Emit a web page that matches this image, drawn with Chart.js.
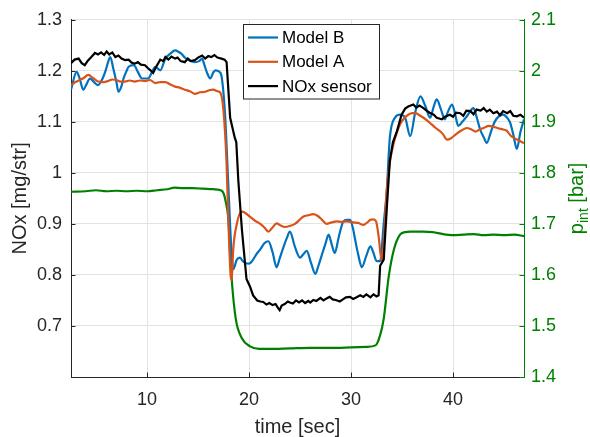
<!DOCTYPE html>
<html lang="pt-BR">
<head>
<meta charset="UTF-8">
<title>NOx - modelos x sensor</title>
<script src="https://cdn.jsdelivr.net/npm/chart.js@4.4.1/dist/chart.umd.min.js"></script>
<style>
    html, body { margin: 0; padding: 0; background: #fff; }
    #grafico { display: block; }
</style>
</head>
<body>
<canvas id="grafico" width="590" height="437"></canvas>
<script>
// Eixos e ticks
const ticksTempo = [10, 20, 30, 40];
const ticksNOx = [0.7, 0.8, 0.9, 1, 1.1, 1.2, 1.3];
const ticksPint = [1.4, 1.5, 1.6, 1.7, 1.8, 1.9, 2, 2.1];

// Model B (azul)
const tempoB = [2.55, 3.1, 3.4, 3.75, 4.1, 4.4, 4.8, 5.2, 5.6, 5.9, 6.2, 6.4, 6.7, 7.0, 7.2, 7.5, 7.7, 8.0, 8.2, 8.7,
    9.1, 9.5, 10.1, 10.5, 10.8, 11.3, 11.8, 12.3, 12.75, 13.1, 13.4, 13.7, 14.05, 14.7, 15.1, 15.4, 15.6, 15.85, 16.2, 16.5,
    16.7, 17.1, 17.3, 17.65, 17.95, 18.3, 18.45, 18.8, 19.1, 19.35, 19.6, 20.0, 20.3, 20.7, 21.1, 21.5, 21.9, 22.3, 22.7, 23.0,
    23.4, 23.7, 24.0, 24.5, 25.0, 25.3, 25.65, 26.1, 26.5, 26.8, 27.1, 27.5, 27.8, 28.1, 28.4, 28.8, 29.25, 29.6, 29.9, 30.2,
    30.4, 30.7, 31.05, 31.5, 31.9, 32.2, 32.5, 32.85, 33.2, 33.5, 33.8, 34.3, 34.8, 35.3, 35.8, 36.3, 36.8, 37.3, 37.75, 38.1,
    38.4, 38.8, 39.2, 39.5, 39.9, 40.2, 40.5, 40.9, 41.35, 42.0, 42.3, 42.65, 43.0, 43.3, 43.7, 44.1, 44.9, 45.3, 45.6, 45.9,
    46.25, 46.6, 46.95];
const noxB = [1.163, 1.198, 1.185, 1.163, 1.175, 1.185, 1.178, 1.172, 1.183, 1.198, 1.218, 1.227, 1.204, 1.178, 1.159, 1.170, 1.185, 1.200, 1.208, 1.211,
    1.198, 1.185, 1.185, 1.198, 1.208, 1.201, 1.224, 1.234, 1.240, 1.237, 1.233, 1.226, 1.221, 1.217, 1.219, 1.224, 1.213, 1.198, 1.185, 1.197,
    1.201, 1.198, 1.190, 1.114, 0.985, 0.837, 0.811, 0.830, 0.834, 0.828, 0.824, 0.822, 0.827, 0.840, 0.850, 0.862, 0.866, 0.845, 0.815, 0.832,
    0.856, 0.872, 0.885, 0.855, 0.834, 0.840, 0.847, 0.822, 0.802, 0.818, 0.837, 0.862, 0.879, 0.860, 0.843, 0.875, 0.905, 0.908, 0.908, 0.890,
    0.869, 0.840, 0.815, 0.838, 0.856, 0.843, 0.827, 0.827, 0.900, 0.966, 1.069, 1.108, 1.114, 1.108, 1.072, 1.120, 1.150, 1.130, 1.108, 1.130,
    1.144, 1.125, 1.105, 1.120, 1.134, 1.115, 1.092, 1.100, 1.111, 1.127, 1.110, 1.085, 1.070, 1.059, 1.080, 1.101, 1.114, 1.108, 1.098, 1.075,
    1.047, 1.080, 1.105];

// Model A (laranja)
const tempoA = [2.55, 3.0, 3.4, 3.8, 4.25, 4.7, 5.2, 5.7, 6.2, 6.6, 7.0, 7.4, 7.85, 8.3, 8.8, 9.3, 9.8, 10.3, 10.8, 11.3,
    11.8, 12.3, 12.75, 13.2, 13.7, 14.2, 14.7, 15.2, 15.7, 16.1, 16.5, 16.9, 17.2, 17.5, 17.8, 17.95, 18.2, 18.3, 18.45, 18.8,
    19.3, 19.6, 20.1, 20.6, 21.1, 21.5, 21.9, 22.3, 22.7, 23.1, 23.5, 24.0, 24.5, 24.9, 25.3, 25.8, 26.3, 26.7, 27.0, 27.3,
    27.6, 28.1, 28.6, 29.1, 29.6, 30.2, 30.7, 31.2, 31.6, 31.9, 32.2, 32.45, 32.7, 33.0, 33.2, 33.5, 33.8, 34.15, 34.5, 34.8,
    35.2, 35.6, 36.0, 36.3, 36.7, 37.1, 37.5, 37.9, 38.3, 38.7, 39.0, 39.4, 39.8, 40.3, 40.8, 41.35, 41.8, 42.2, 42.6, 43.0,
    43.5, 44.0, 44.5, 44.9, 45.3, 45.6, 45.9, 46.4, 46.95];
const noxA = [1.172, 1.178, 1.182, 1.186, 1.192, 1.186, 1.179, 1.178, 1.180, 1.183, 1.182, 1.179, 1.179, 1.181, 1.179, 1.181, 1.180, 1.182, 1.176, 1.178,
    1.178, 1.173, 1.169, 1.167, 1.163, 1.160, 1.155, 1.158, 1.159, 1.162, 1.163, 1.160, 1.157, 1.121, 1.018, 0.921, 0.798, 0.790, 0.850, 0.900,
    0.924, 0.922, 0.914, 0.906, 0.900, 0.893, 0.885, 0.893, 0.901, 0.897, 0.894, 0.896, 0.900, 0.907, 0.914, 0.917, 0.919, 0.916, 0.911, 0.905,
    0.900, 0.903, 0.905, 0.904, 0.905, 0.903, 0.902, 0.898, 0.903, 0.908, 0.909, 0.905, 0.876, 0.828, 0.860, 0.966, 1.020, 1.056, 1.080, 1.095,
    1.107, 1.114, 1.117, 1.117, 1.113, 1.108, 1.102, 1.095, 1.088, 1.082, 1.076, 1.065, 1.068, 1.076, 1.083, 1.088, 1.085, 1.081, 1.085, 1.088,
    1.092, 1.090, 1.087, 1.085, 1.082, 1.074, 1.069, 1.064, 1.058];

// Sensor de NOx (preto)
const tempoSensor = [2.55, 2.9, 3.3, 3.6, 3.9, 4.2, 4.5, 4.9, 5.2, 5.5, 5.8, 6.05, 6.3, 6.6, 6.9, 7.2, 7.5, 7.85, 8.2, 8.5,
    8.8, 9.1, 9.4, 9.8, 10.1, 10.4, 10.6, 10.9, 11.3, 11.6, 11.8, 12.1, 12.4, 12.75, 13.0, 13.3, 13.7, 14.0, 14.3, 14.7,
    15.0, 15.4, 15.7, 16.0, 16.3, 16.6, 16.9, 17.3, 17.6, 17.8, 18.15, 18.6, 18.75, 18.95, 19.3, 19.75, 20.1, 20.4, 20.8, 21.1,
    21.4, 21.7, 22.0, 22.3, 22.6, 22.85, 23.0, 23.2, 23.5, 23.8, 24.0, 24.3, 24.6, 24.9, 25.2, 25.5, 25.8, 26.0, 26.3, 26.6,
    27.0, 27.3, 27.6, 27.9, 28.2, 28.5, 28.9, 29.2, 29.5, 29.9, 30.2, 30.5, 30.9, 31.2, 31.5, 31.9, 32.2, 32.5, 32.7, 32.85,
    33.2, 33.5, 33.8, 34.1, 34.5, 34.95, 35.3, 35.6, 36.1, 36.4, 36.7, 37.1, 37.4, 37.7, 38.1, 38.4, 38.9, 39.2, 39.7, 40.0,
    40.3, 40.7, 41.0, 41.3, 41.7, 42.0, 42.3, 42.7, 43.0, 43.3, 43.6, 43.95, 44.3, 44.6, 44.9, 45.3, 45.6, 45.9, 46.25, 46.6,
    46.95];
const noxSensor = [1.215, 1.222, 1.224, 1.215, 1.211, 1.220, 1.226, 1.235, 1.232, 1.236, 1.231, 1.238, 1.232, 1.236, 1.227, 1.230, 1.224, 1.221, 1.222, 1.216,
    1.214, 1.217, 1.212, 1.211, 1.205, 1.200, 1.196, 1.208, 1.222, 1.219, 1.227, 1.222, 1.228, 1.224, 1.226, 1.219, 1.217, 1.224, 1.219, 1.221,
    1.226, 1.230, 1.224, 1.229, 1.227, 1.231, 1.226, 1.224, 1.222, 1.217, 1.108, 1.069, 1.060, 0.985, 0.889, 0.792, 0.777, 0.760, 0.750, 0.748,
    0.747, 0.742, 0.745, 0.741, 0.743, 0.735, 0.731, 0.740, 0.743, 0.748, 0.746, 0.744, 0.750, 0.746, 0.750, 0.745, 0.749, 0.746, 0.751, 0.749,
    0.755, 0.750, 0.754, 0.757, 0.752, 0.751, 0.748, 0.752, 0.756, 0.757, 0.753, 0.756, 0.760, 0.757, 0.762, 0.756, 0.762, 0.758, 0.760, 0.818,
    0.830, 0.930, 1.024, 1.060, 1.082, 1.114, 1.126, 1.130, 1.134, 1.128, 1.132, 1.127, 1.122, 1.118, 1.114, 1.108, 1.105, 1.110, 1.114, 1.110,
    1.118, 1.117, 1.112, 1.122, 1.121, 1.115, 1.124, 1.122, 1.127, 1.120, 1.124, 1.117, 1.120, 1.113, 1.121, 1.117, 1.121, 1.112, 1.111, 1.114,
    1.108];

// Pressão de admissão p_int (verde, eixo direito)
const tempoPint = [2.55, 4, 5, 6, 7, 8, 9, 10, 11, 12, 12.7, 13.5, 14.5, 15.5, 16.5, 17.2, 17.5, 17.7, 17.95, 18.3,
    18.7, 19.3, 20.1, 21, 22, 24, 26, 28, 30, 31.5, 32.4, 32.85, 33.2, 33.7, 34.2, 34.8, 35.3, 35.8, 37, 38,
    39, 40, 41, 42, 43, 44, 45, 46, 46.95];
const pint = [1.763, 1.764, 1.766, 1.764, 1.765, 1.764, 1.765, 1.764, 1.766, 1.768, 1.771, 1.770, 1.770, 1.769, 1.768, 1.766, 1.760, 1.745, 1.714, 1.592,
    1.514, 1.476, 1.460, 1.455, 1.455, 1.456, 1.457, 1.457, 1.458, 1.459, 1.462, 1.482, 1.514, 1.598, 1.650, 1.679, 1.684, 1.685, 1.685, 1.684,
    1.680, 1.678, 1.679, 1.680, 1.678, 1.679, 1.678, 1.679, 1.676];

const FONTE = "'Liberation Sans', Arial, Helvetica, sans-serif";
const COR_EIXO = '#262626';
const COR_GRID = '#e3e3e3';
const VERDE = '#008000';

function pontos(xs, ys) {
    return xs.map((x, i) => ({ x: x, y: ys[i] }));
}

// Ticks fixos, no estilo do MATLAB
function fixarTicks(lista) {
    return function(scale) {
        scale.ticks = lista.map(v => ({ value: v }));
    };
}

// Marcas de tick para dentro, títulos dos eixos e legenda
const extrasPlugin = {
    id: 'extras',
    afterDraw(chart) {
        const ctx = chart.ctx;
        const area = chart.chartArea;
        const sx = chart.scales.x, sy = chart.scales.y, sy2 = chart.scales.y2;
        const tam = 4.5;

        ctx.save();
        ctx.lineWidth = 1;
        ctx.strokeStyle = COR_EIXO;
        ctx.beginPath();
        ticksTempo.forEach(v => {
            const px = Math.round(sx.getPixelForValue(v)) + 0.5;
            ctx.moveTo(px, area.bottom);
            ctx.lineTo(px, area.bottom - tam);
        });
        ticksNOx.forEach(v => {
            const py = Math.round(sy.getPixelForValue(v)) + 0.5;
            ctx.moveTo(area.left, py);
            ctx.lineTo(area.left + tam, py);
        });
        ctx.stroke();
        ctx.strokeStyle = VERDE;
        ctx.beginPath();
        ticksPint.forEach(v => {
            const py = Math.round(sy2.getPixelForValue(v)) + 0.5;
            ctx.moveTo(area.right, py);
            ctx.lineTo(area.right - tam, py);
        });
        ctx.stroke();

        // Títulos
        const meioY = (area.top + area.bottom) / 2;
        ctx.fillStyle = COR_EIXO;
        ctx.font = '20px ' + FONTE;
        ctx.textAlign = 'center';
        ctx.textBaseline = 'alphabetic';
        ctx.fillText('time [sec]', (area.left + area.right) / 2, 433);

        ctx.save();
        ctx.translate(26, meioY);
        ctx.rotate(-Math.PI / 2);
        ctx.fillText('NOx [mg/str]', 0, 0);
        ctx.restore();

        // p_int com subscrito
        ctx.save();
        ctx.translate(583, meioY);
        ctx.rotate(-Math.PI / 2);
        ctx.fillStyle = VERDE;
        ctx.textAlign = 'left';
        ctx.font = '20px ' + FONTE;
        const wP = ctx.measureText('p').width;
        const wResto = ctx.measureText(' [bar]').width;
        ctx.font = '14px ' + FONTE;
        const wSub = ctx.measureText('int').width;
        let x0 = -(wP + wSub + wResto) / 2;
        ctx.font = '20px ' + FONTE;
        ctx.fillText('p', x0, 0);
        ctx.font = '14px ' + FONTE;
        ctx.fillText('int', x0 + wP, 5);
        ctx.font = '20px ' + FONTE;
        ctx.fillText(' [bar]', x0 + wP + wSub, 0);
        ctx.restore();

        // Legenda
        const itens = chart.data.datasets.filter(d => d.naLegenda);
        ctx.fillStyle = '#ffffff';
        ctx.fillRect(243.5, 24.5, 136, 74.5);
        ctx.strokeStyle = COR_EIXO;
        ctx.lineWidth = 1;
        ctx.strokeRect(243.5, 24.5, 136, 74.5);
        ctx.font = '17px ' + FONTE;
        ctx.textAlign = 'left';
        ctx.textBaseline = 'middle';
        itens.forEach((d, i) => {
            const y = 37.5 + i * 24.3;
            ctx.strokeStyle = d.borderColor;
            ctx.lineWidth = 2.2;
            ctx.beginPath();
            ctx.moveTo(248, y);
            ctx.lineTo(278, y);
            ctx.stroke();
            ctx.fillStyle = '#000000';
            ctx.fillText(d.label, 282, y + 1);
        });
        ctx.restore();
    }
};

const ctxGrafico = document.getElementById('grafico').getContext('2d');
const grafico = new Chart(ctxGrafico, {
    type: 'line',
    data: {
        datasets: [{
            label: 'Model B',
            naLegenda: true,
            data: pontos(tempoB, noxB),
            borderColor: '#0072BD',
            borderWidth: 2.2,
            cubicInterpolationMode: 'monotone',
            yAxisID: 'y',
            order: 2
        }, {
            label: 'Model A',
            naLegenda: true,
            data: pontos(tempoA, noxA),
            borderColor: '#D95319',
            borderWidth: 2.2,
            cubicInterpolationMode: 'monotone',
            yAxisID: 'y',
            order: 1
        }, {
            label: 'NOx sensor',
            naLegenda: true,
            data: pontos(tempoSensor, noxSensor),
            borderColor: '#000000',
            borderWidth: 2.2,
            tension: 0,
            yAxisID: 'y',
            order: 0
        }, {
            label: 'p_int',
            naLegenda: false,
            data: pontos(tempoPint, pint),
            borderColor: VERDE,
            borderWidth: 2.2,
            cubicInterpolationMode: 'monotone',
            yAxisID: 'y2',
            order: 3
        }]
    },
    options: {
        responsive: false,
        devicePixelRatio: 1,
        animation: false,
        parsing: false,
        elements: { point: { radius: 0 } },
        layout: { padding: { top: 18, left: 0, right: 0, bottom: 0 } },
        plugins: {
            legend: { display: false },
            tooltip: { enabled: false }
        },
        scales: {
            x: {
                type: 'linear',
                min: 2.55,
                max: 46.95,
                afterBuildTicks: fixarTicks(ticksTempo),
                afterFit: scale => { scale.height = 60; },
                grid: { color: COR_GRID, drawTicks: false },
                border: { color: COR_EIXO, width: 1 },
                ticks: {
                    color: COR_EIXO,
                    padding: 12,
                    font: { family: FONTE, size: 18 },
                    callback: v => String(v)
                }
            },
            y: {
                position: 'left',
                min: 0.6,
                max: 1.3,
                afterBuildTicks: fixarTicks(ticksNOx),
                afterFit: scale => { scale.width = 71; },
                grid: { color: COR_GRID, drawTicks: false },
                border: { color: COR_EIXO, width: 1 },
                ticks: {
                    color: COR_EIXO,
                    padding: 9,
                    font: { family: FONTE, size: 18 },
                    callback: v => String(v)
                }
            },
            y2: {
                position: 'right',
                min: 1.4,
                max: 2.1,
                afterBuildTicks: fixarTicks(ticksPint),
                afterFit: scale => { scale.width = 66; },
                grid: { display: false, drawTicks: false },
                border: { color: VERDE, width: 1 },
                ticks: {
                    color: VERDE,
                    padding: 7,
                    font: { family: FONTE, size: 18 },
                    callback: v => String(v)
                }
            }
        }
    },
    plugins: [extrasPlugin]
});
</script>
</body>
</html>
